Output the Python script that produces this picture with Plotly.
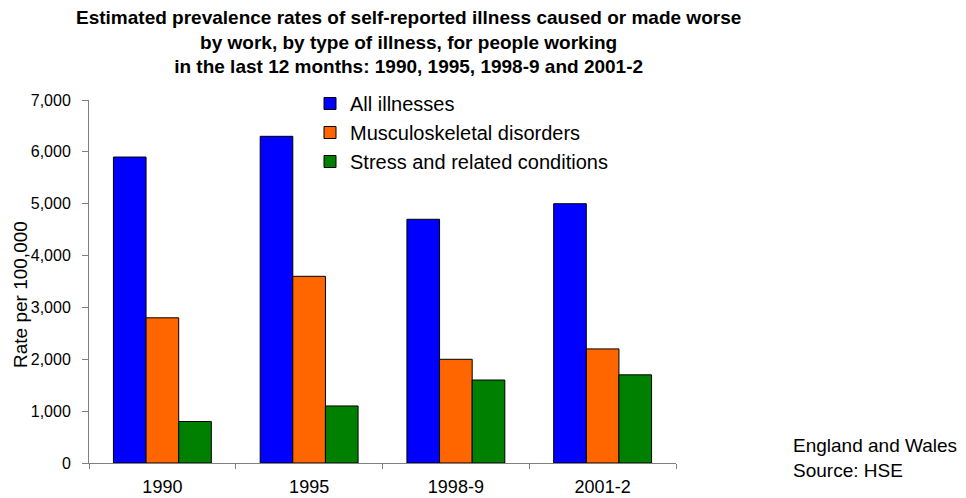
import plotly.graph_objects as go

categories = ["1990", "1995", "1998-9", "2001-2"]
all_illnesses = [5900, 6300, 4700, 5000]
musculoskeletal = [2800, 3600, 2000, 2200]
stress = [800, 1100, 1600, 1700]
series_names = ["All illnesses", "Musculoskeletal disorders", "Stress and related conditions"]
colors = ["#0000FF", "#FF6600", "#008000"]

fig = go.Figure()
for i, (name, vals) in enumerate(zip(series_names, [all_illnesses, musculoskeletal, stress])):
    fig.add_trace(go.Bar(
        x=categories, y=vals, name=name, legendgroup=name,
        marker=dict(color=colors[i], line=dict(color="#000000", width=1)),
    ))

FONT = "Liberation Sans, Arial, sans-serif"
W, H = 958, 490
L, R, T, B = 81, 290, 92, 35
PW, PH = W - L - R, H - T - B

def px(x):
    return (x - L) / PW

def py(y):
    return (H - B - y) / PH

fig.update_layout(
    width=W, height=H,
    margin=dict(l=L, r=R, t=T, b=B, autoexpand=False),
    paper_bgcolor="white", plot_bgcolor="white",
    barmode="group", bargap=0.333, bargroupgap=0,
    font=dict(family=FONT, color="#000000"),
    showlegend=True,
    legend=dict(
        x=px(302), xanchor="left", y=py(76), yanchor="top",
        font=dict(size=20, family=FONT), bgcolor="rgba(0,0,0,0)",
        tracegroupgap=9, traceorder="normal",
    ),
    xaxis=dict(
        showline=True, linecolor="#808080", linewidth=1,
        ticks="outside", tickson="boundaries", ticklen=5, tickcolor="#808080",
        tickfont=dict(size=18, family=FONT), showgrid=False,
        ticklabelstandoff=7, automargin=False,
    ),
    yaxis=dict(
        range=[0, 7000], dtick=1000, tickformat=",",
        showline=True, linecolor="#808080", linewidth=1,
        ticks="outside", ticklen=6, tickcolor="#808080",
        tickfont=dict(size=16, family=FONT), showgrid=False, zeroline=False,
        ticklabelstandoff=8, automargin=False,
    ),
)
fig.add_annotation(
    text="<b>Estimated prevalence rates of self-reported illness caused or made worse<br>by work, by type of illness, for people working<br>in the last 12 months: 1990, 1995, 1998-9 and 2001-2</b>",
    xref="paper", yref="paper", x=px(400), y=py(34), xanchor="center", yanchor="middle",
    showarrow=False, align="center", font=dict(size=19, family=FONT),
)
fig.add_annotation(
    text="Rate per 100,000", xref="paper", yref="paper", x=px(12), y=py(287),
    xanchor="center", yanchor="middle", textangle=-90, showarrow=False,
    font=dict(size=19, family=FONT),
)
fig.add_annotation(
    text="England and Wales<br>Source: HSE", xref="paper", yref="paper",
    x=px(783), y=py(450), xanchor="left", yanchor="middle", showarrow=False,
    align="left", font=dict(size=19, family=FONT),
)
fig.write_html("out.html")
